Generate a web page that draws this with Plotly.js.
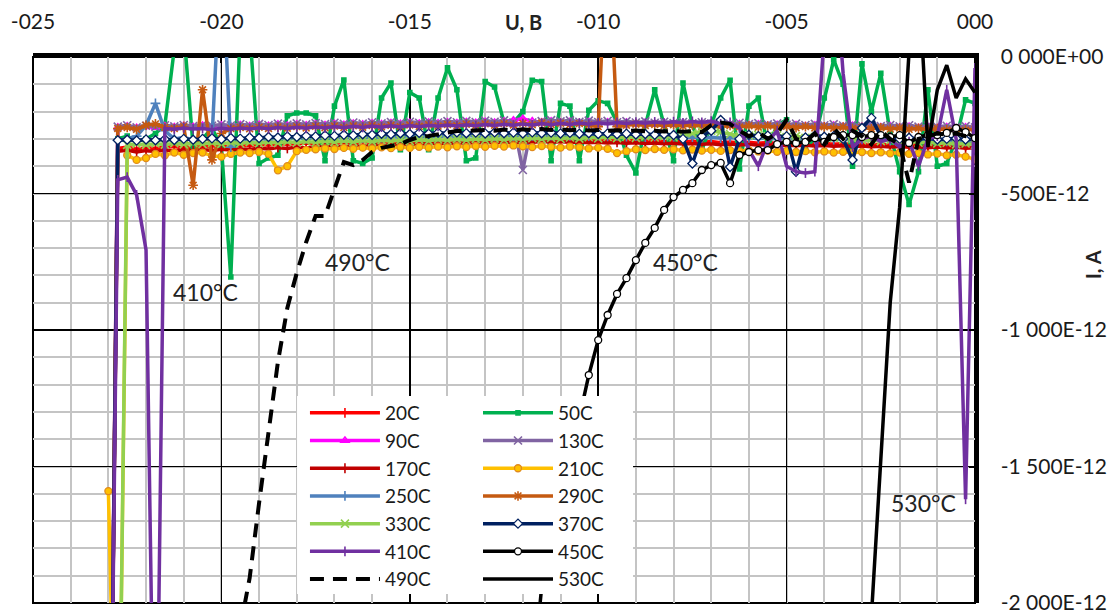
<!DOCTYPE html>
<html><head><meta charset="utf-8">
<script src="https://cdn.plot.ly/plotly-3.0.1.min.js"></script>
<style>html,body{margin:0;padding:0;background:#fff}#chart{width:1113px;height:613px}</style>
</head><body><div id="chart"></div>
<script>
// Voltage, V
const U = [
-23,-22.75,-22.5,-22.25,-22,-21.75,-21.5,-21.25,-21,-20.75,
-20.5,-20.25,-20,-19.75,-19.5,-19.25,-19,-18.75,-18.5,-18.25,
-18,-17.75,-17.5,-17.25,-17,-16.75,-16.5,-16.25,-16,-15.75,
-15.5,-15.25,-15,-14.75,-14.5,-14.25,-14,-13.75,-13.5,-13.25,
-13,-12.75,-12.5,-12.25,-12,-11.75,-11.5,-11.25,-11,-10.75,
-10.5,-10.25,-10,-9.75,-9.5,-9.25,-9,-8.75,-8.5,-8.25,
-8,-7.75,-7.5,-7.25,-7,-6.75,-6.5,-6.25,-6,-5.75,
-5.5,-5.25,-5,-4.75,-4.5,-4.25,-4,-3.75,-3.5,-3.25,
-3,-2.75,-2.5,-2.25,-2,-1.75,-1.5,-1.25,-1,-0.75,
-0.5,-0.25,0];

// Current, in units of 1E-12 A
const I_20C = [
-3500,-335,-330,-338,-332,-335,-330,-328,-333,-330,
-328,-325,-330,-326,-322,-325,-320,-323,-318,-320,
-318,-315,-318,-314,-316,-312,-315,-310,-313,-310,
-308,-311,-307,-310,-306,-309,-305,-308,-304,-307,
-305,-303,-306,-302,-305,-301,-304,-300,-303,-305,
-302,-306,-303,-307,-304,-308,-305,-309,-306,-310,
-308,-312,-309,-313,-310,-314,-311,-315,-312,-316,
-313,-317,-314,-318,-315,-319,-316,-320,-317,-321,
-318,-322,-319,-323,-320,-324,-321,-325,-322,-326,
-323,-327,-324];
const I_50C = [
-3500,-300,-290,-310,-300,-280,-250,30,100,-330,
-300,-260,-330,-806,100,100,-390,-370,-360,-215,
-205,-205,-215,-380,-180,-84,-380,-390,-370,-150,
-95,-340,-130,-150,-340,-150,-40,-120,-380,-370,
-90,-110,-240,-240,-200,-85,-90,-380,-170,-180,
-380,-195,-160,-170,-240,-360,-425,-250,-120,-250,
-380,-95,-250,-340,-250,-150,-85,-410,-180,-150,
-330,-250,-230,-300,-330,-300,-150,-10,-100,-400,
-25,-200,-60,-280,-420,-540,-420,-120,-400,-390,
-300,-157,-170];
const I_90C = [
-3500,-258,-254,-259,-255,-258,-253,-257,-252,-256,
-251,-255,-250,-254,-249,-253,-248,-252,-247,-251,
-247,-250,-246,-249,-245,-248,-244,-247,-243,-246,
-242,-245,-241,-244,-240,-243,-239,-242,-238,-241,
-237,-240,-236,-232,-226,-235,-239,-236,-240,-237,
-241,-238,-242,-239,-243,-240,-244,-241,-245,-242,
-246,-243,-247,-244,-248,-245,-249,-246,-250,-247,
-251,-248,-252,-249,-253,-250,-254,-251,-255,-252,
-256,-253,-257,-254,-258,-255,-259,-256,-260,-257,
-261,-258,-262];
const I_130C = [
-3500,-255,-250,-258,-252,-256,-250,-254,-249,-253,
-248,-252,-247,-251,-246,-250,-245,-249,-244,-248,
-243,-247,-242,-246,-241,-245,-240,-244,-239,-243,
-238,-242,-237,-241,-236,-240,-235,-239,-234,-238,
-233,-237,-232,-240,-414,-240,-235,-231,-236,-232,
-237,-233,-238,-234,-239,-235,-240,-236,-241,-237,
-242,-238,-243,-239,-244,-240,-245,-241,-246,-242,
-247,-243,-248,-244,-249,-245,-250,-246,-251,-247,
-252,-248,-253,-249,-254,-250,-255,-251,-256,-252,
-257,-253,-258];
const I_170C = [
-3500,-345,-342,-348,-343,-346,-341,-344,-340,-343,
-339,-342,-338,-341,-336,-339,-334,-337,-332,-335,
-330,-333,-328,-331,-326,-329,-324,-327,-322,-325,
-320,-323,-318,-321,-316,-319,-314,-317,-313,-316,
-312,-315,-311,-314,-310,-313,-309,-312,-310,-313,
-311,-314,-312,-315,-313,-316,-314,-317,-315,-318,
-316,-319,-317,-320,-318,-321,-319,-322,-320,-323,
-321,-324,-322,-325,-323,-326,-324,-327,-325,-328,
-326,-329,-327,-330,-328,-331,-329,-332,-330,-333,
-331,-334,-332];
const I_210C = [
-1590,-3000,-360,-377,-370,-355,-360,-350,-358,-352,
-350,-362,-365,-355,-350,-352,-348,-355,-415,-400,
-345,-340,-338,-335,-337,-333,-336,-332,-335,-331,
-334,-330,-333,-329,-332,-328,-331,-327,-330,-326,
-329,-325,-328,-324,-327,-330,-326,-329,-332,-328,
-331,-335,-332,-336,-352,-345,-338,-341,-337,-340,
-338,-342,-339,-343,-340,-344,-341,-345,-342,-346,
-343,-347,-344,-348,-345,-349,-346,-350,-347,-351,
-348,-352,-349,-353,-350,-355,-352,-357,-354,-360,
-358,-365,-375];
const I_250C = [
-3500,-305,-300,-290,-250,-170,-270,-300,-295,-305,
-300,-300,400,-330,-305,-300,-298,-302,-297,-300,
-296,-299,-295,-298,-294,-297,-293,-296,-292,-295,
-291,-294,-290,-293,-289,-292,-288,-291,-287,-290,
-288,-291,-287,-290,-286,-289,-285,-288,-286,-289,
-287,-290,-288,-291,-289,-292,-290,-293,-291,-294,
-292,-295,-293,-296,-294,-297,-295,-298,-296,-299,
-297,-300,-298,-301,-299,-302,-300,-303,-301,-304,
-302,-305,-303,-306,-304,-307,-305,-308,-306,-309,
-307,-310,-308];
const I_290C = [
-3500,-262,-258,-265,-250,-245,-258,-262,-255,-470,
-120,-377,-280,-262,-258,-263,-257,-262,-256,-261,
-255,-260,-254,-259,-253,-258,-252,-257,-251,-256,
-250,-255,-249,-254,-248,-253,-247,-252,-246,-251,
-245,-250,-244,-249,-243,-248,-242,-247,-243,-248,
-244,-249,-255,500,-255,-250,-246,-251,-247,-252,
-248,-253,-249,-254,-250,-255,-251,-256,-252,-257,
-253,-258,-254,-259,-255,-260,-256,-261,-257,-262,
-258,-263,-259,-264,-260,-265,-261,-266,-262,-267,
-263,-268,-264];
const I_330C = [
-3500,-3000,-322,-318,-322,-317,-321,-316,-320,-315,
-319,-314,-318,-313,-317,-312,-316,-311,-315,-310,
-314,-309,-313,-308,-312,-307,-311,-306,-310,-305,
-309,-304,-308,-303,-307,-302,-306,-301,-305,-300,
-304,-299,-303,-298,-302,-297,-301,-296,-300,-295,
-299,-294,-298,-293,-297,-292,-296,-291,-295,-290,
-294,-289,-280,-272,-270,-275,-282,-290,-288,-285,
-290,-287,-293,-290,-296,-293,-299,-296,-302,-299,
-305,-302,-308,-305,-311,-308,-314,-311,-317,-314,
-320,-317,-322];
const I_370C = [
-3500,-305,-303,-306,-302,-305,-301,-304,-300,-303,
-300,-298,-301,-297,-299,-295,-297,-293,-295,-291,
-293,-289,-291,-287,-289,-285,-287,-283,-285,-281,
-283,-279,-282,-278,-281,-277,-280,-276,-279,-277,
-280,-276,-279,-277,-280,-276,-279,-277,-280,-278,
-281,-279,-282,-280,-283,-281,-284,-282,-285,-283,
-286,-300,-390,-290,-270,-231,-403,-300,-285,-290,
-288,-292,-290,-420,-295,-288,-292,-290,-300,-377,
-260,-223,-290,-295,-300,-296,-300,-298,-302,-300,
-298,-302,-300];
const I_410C = [
-3500,-450,-440,-505,-707,-3000,-262,-265,-260,-264,
-262,-266,-261,-265,-260,-264,-259,-263,-258,-262,
-257,-261,-256,-260,-255,-259,-254,-258,-253,-257,
-252,-256,-251,-255,-250,-254,-249,-253,-248,-252,
-247,-251,-246,-250,-245,-249,-244,-248,-243,-247,
-242,-246,-241,-245,-240,-244,-239,-243,-238,-242,
-237,-241,-236,-240,-235,-245,-240,-260,-340,-400,
-310,-270,-400,-420,-425,-420,80,400,-60,-330,
-300,-290,-310,-300,-330,-310,-400,-300,-290,-120,
-300,-1620,-40];
const I_450C = [
null,null,null,null,null,null,null,null,null,null,
null,null,null,null,null,null,null,null,null,null,
null,null,null,null,null,null,null,null,null,null,
null,null,null,null,null,null,null,null,null,null,
null,null,null,null,null,-2300,-1941,-1788,-1630,-1476,
-1322,-1165,-1037,-945,-868,-810,-744,-681,-626,-560,
-513,-487,-462,-414,-396,-388,-462,-359,-348,-341,
-341,-319,-311,-315,-311,-297,-311,-293,-286,-286,
-293,-286,-286,-293,-286,-315,-293,-286,-286,-278,
-260,-275,-297];
const I_490C = [
null,null,null,null,null,null,null,null,null,null,
null,null,null,null,-2092,-1908,-1634,-1366,-1117,-919,
-791,-678,-582,-582,-487,-385,-396,-377,-348,-333,
-326,-319,-304,-293,-289,-282,-275,-271,-271,-268,
-267,-270,-266,-269,-265,-268,-264,-267,-265,-268,
-266,-269,-267,-270,-268,-271,-269,-272,-270,-273,
-271,-274,-272,-275,-250,-240,-245,-270,-290,-275,
-300,-280,-230,-300,-310,-280,-320,-260,-300,-270,
-290,-320,-270,-300,-320,-460,-300,-290,-280,-285,
-280,-290,-285];
const I_530C = [
null,null,null,null,null,null,null,null,null,null,
null,null,null,null,null,null,null,null,null,null,
null,null,null,null,null,null,null,null,null,null,
null,null,null,null,null,null,null,null,null,null,
null,null,null,null,null,null,null,null,null,null,
null,null,null,null,null,null,null,null,null,null,
null,null,null,null,null,null,null,null,null,null,
null,null,null,null,null,null,null,null,null,null,
null,-2050,-1500,-900,-550,20,300,-330,-120,-30,
-150,-80,-130];

const xTickVals = [-25,-20,-15,-10,-5,0];
const xTickText = ['-025','-020','-015','-010','-005','000'];
const yTickVals = [0,-500,-1000,-1500,-2000];
const yTickText = ['0 000E+00','-500E-12','-1 000E-12','-1 500E-12','-2 000E-12'];

const curveLabels = ['410°C','490°C','450°C','530°C'];
const curveLabelX = [-20.43,-16.40,-7.67,-1.38];
const curveLabelY = [-861,-751,-751,-1634];

// series styles (name, data, legend column, look)
const series = [
  {name:'20C',  y:I_20C,  lg:'legend',  color:'#FF0000', sym:'line-ns-open', ms:7},
  {name:'50C',  y:I_50C,  lg:'legend2', color:'#00B050', sym:'square', ms:4},
  {name:'90C',  y:I_90C,  lg:'legend',  color:'#FF00FF', sym:'triangle-up-open', ms:7},
  {name:'130C', y:I_130C, lg:'legend2', color:'#8064A2', sym:'x-thin-open', ms:8},
  {name:'170C', y:I_170C, lg:'legend',  color:'#C00000', sym:'line-ns-open', ms:7},
  {name:'210C', y:I_210C, lg:'legend2', color:'#FFC000', sym:'circle', ms:7, mfill:'#FFC000', mline:'#E08A1E'},
  {name:'250C', y:I_250C, lg:'legend',  color:'#4F81BD', sym:'cross-thin-open', ms:7},
  {name:'290C', y:I_290C, lg:'legend2', color:'#C55A11', sym:'asterisk-open', ms:8},
  {name:'330C', y:I_330C, lg:'legend',  color:'#92D050', sym:'x-thin-open', ms:8},
  {name:'370C', y:I_370C, lg:'legend2', color:'#002060', sym:'diamond', ms:7, mfill:'#FFFFFF', mline:'#002060'},
  {name:'410C', y:I_410C, lg:'legend',  color:'#7030A0', sym:'line-ns-open', ms:7},
  {name:'450C', y:I_450C, lg:'legend2', color:'#000000', sym:'circle', ms:7, mfill:'#FFFFFF', mline:'#000000'},
  {name:'490C', y:I_490C, lg:'legend',  color:'#000000', dash:'14px,9px', noMarker:true, lw:4},
  {name:'530C', y:I_530C, lg:'legend2', color:'#000000', noMarker:true}
];

const traces = series.map(s => {
  const t = {
    type:'scatter', x:U, y:s.y, name:s.name, legend:s.lg,
    mode: s.noMarker ? 'lines' : 'lines+markers',
    line:{color:s.color, width:s.lw || 3.5, dash:s.dash || 'solid'},
    connectgaps:false, cliponaxis:true, hoverinfo:'skip'
  };
  if(!s.noMarker){
    t.marker = {symbol:s.sym, size:s.ms,
      color: s.mfill || s.color,
      line:{color: s.mline || s.color, width: s.mfill ? 1.3 : 1.6}};
  }
  return t;
});

const fontFam = 'Lato, "Open Sans", sans-serif';

const annotations = curveLabels.map((t,i) => ({
  xref:'x', yref:'y', x:curveLabelX[i], y:curveLabelY[i], text:t,
  showarrow:false, xanchor:'center', yanchor:'middle',
  font:{family:fontFam, size:23, color:'#222'}
}));
annotations.push({xref:'paper', yref:'paper', x:0.521, y:1.064, text:'<b>U, B</b>',
  showarrow:false, xanchor:'center', yanchor:'middle', font:{family:fontFam, size:20, color:'#222'}});
annotations.push({xref:'paper', yref:'paper', x:1.1253, y:0.619, text:'<b>I, A</b>', textangle:-90,
  showarrow:false, xanchor:'center', yanchor:'middle', font:{family:fontFam, size:20, color:'#222'}});

const layout = {
  width:1113, height:613,
  margin:{l:33, r:138, t:57, b:10, pad:0},
  paper_bgcolor:'#ffffff', plot_bgcolor:'#ffffff',
  font:{family:fontFam, size:21, color:'#1a1a1a'},
  hovermode:false,
  xaxis:{
    range:[-25,0], side:'top', tickmode:'array', tickvals:xTickVals, ticktext:xTickText,
    ticks:'inside', ticklen:6, tickwidth:2, tickcolor:'#000',
    showline:true, linecolor:'#000', linewidth:4,
    showgrid:true, gridcolor:'#000', gridwidth:1.5, zeroline:false,
    minor:{tickmode:'linear', tick0:0, dtick:1, showgrid:true, gridcolor:'#C4C4C4', gridwidth:2, ticks:''},
    tickfont:{family:fontFam, size:21, color:'#1a1a1a'}, ticklabelstandoff:16,
    ticklabeloverflow:'allow', fixedrange:true
  },
  yaxis:{
    range:[-2000,0], side:'right', tickmode:'array', tickvals:yTickVals, ticktext:yTickText,
    ticks:'inside', ticklen:6, tickwidth:2, tickcolor:'#000',
    showline:true, linecolor:'#000', linewidth:3.5,
    showgrid:true, gridcolor:'#000', gridwidth:1.5, zeroline:false,
    minor:{tickmode:'linear', tick0:0, dtick:100, showgrid:true, gridcolor:'#C4C4C4', gridwidth:2, ticks:''},
    tickfont:{family:fontFam, size:21, color:'#1a1a1a'}, ticklabelstandoff:18,
    ticklabeloverflow:'allow', fixedrange:true
  },
  showlegend:true,
  legend:{x:0.2887, y:0.3828, xanchor:'left', yanchor:'top', bgcolor:'rgba(0,0,0,0)', borderwidth:0,
    font:{family:fontFam, size:19, color:'#1a1a1a'}, itemwidth:70, tracegroupgap:0, itemclick:false},
  legend2:{x:0.4724, y:0.3828, xanchor:'left', yanchor:'top', bgcolor:'rgba(0,0,0,0)', borderwidth:0,
    font:{family:fontFam, size:19, color:'#1a1a1a'}, itemwidth:70, tracegroupgap:0, itemclick:false},
  shapes:[
    {type:'rect', xref:'paper', yref:'paper', x0:0, x1:1, y0:0, y1:1, layer:'between',
     line:{color:'#000', width:2}, fillcolor:'rgba(0,0,0,0)'},
    {type:'rect', xref:'paper', yref:'paper', x0:0.2803, x1:0.637, y0:0.0165, y1:0.379, layer:'above',
     line:{width:0}, fillcolor:'#ffffff'}
  ],
  annotations:annotations
};

Plotly.newPlot('chart', traces, layout, {staticPlot:true, displayModeBar:false});
</script>
</body></html>
